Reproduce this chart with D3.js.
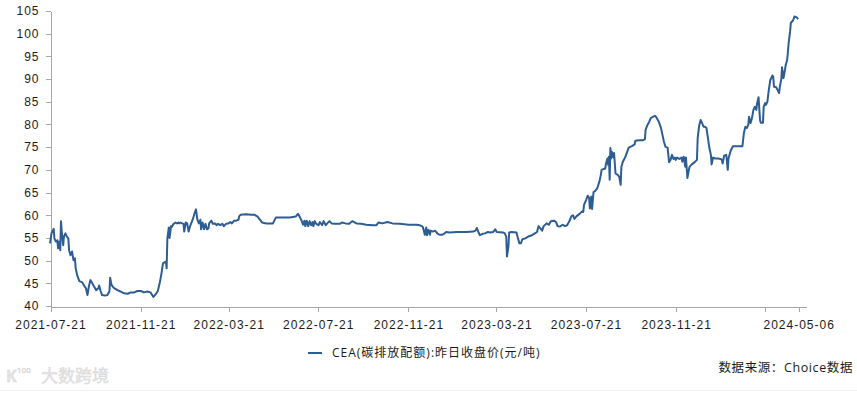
<!DOCTYPE html>
<html>
<head>
<meta charset="utf-8">
<script src="https://cdn.jsdelivr.net/npm/d3@7"></script>
<style>
  html, body { margin: 0; padding: 0; background: #fff; }
  svg { display: block; font-family: 'Open Sans', 'Noto Sans CJK SC', sans-serif; }
  .axis path, .axis line { stroke: #a6a6a6; shape-rendering: crispEdges; }
  .axis text { fill: #1a1a1a; font-size: 12px; letter-spacing: 1px; }
</style>
</head>
<body>
<svg id="chart" width="857" height="393"></svg>
<script>
const dates = [
  '2021-07-21', '2021-07-23', '2021-07-26', '2021-07-27', '2021-07-29', '2021-07-31', '2021-08-01', '2021-08-03',
  '2021-08-04', '2021-08-05', '2021-08-06', '2021-08-08', '2021-08-09', '2021-08-11', '2021-08-13', '2021-08-15',
  '2021-08-16', '2021-08-18', '2021-08-20', '2021-08-22', '2021-08-24', '2021-08-25', '2021-08-27', '2021-08-30',
  '2021-09-03', '2021-09-05', '2021-09-08', '2021-09-10', '2021-09-12', '2021-09-14', '2021-09-16', '2021-09-19',
  '2021-09-22', '2021-09-25', '2021-09-26', '2021-09-28', '2021-09-30', '2021-10-04', '2021-10-07', '2021-10-10',
  '2021-10-11', '2021-10-13', '2021-10-16', '2021-10-21', '2021-10-25', '2021-10-30', '2021-11-04', '2021-11-08',
  '2021-11-13', '2021-11-17', '2021-11-22', '2021-11-26', '2021-12-01', '2021-12-05', '2021-12-09', '2021-12-13',
  '2021-12-15', '2021-12-18', '2021-12-20', '2021-12-22', '2021-12-24', '2021-12-26', '2021-12-27', '2021-12-28',
  '2021-12-30', '2021-12-31', '2022-01-02', '2022-01-03', '2022-01-05', '2022-01-08', '2022-01-10', '2022-01-12',
  '2022-01-13', '2022-01-15', '2022-01-17', '2022-01-19', '2022-01-20', '2022-01-22', '2022-01-24', '2022-01-26',
  '2022-01-28', '2022-01-30', '2022-02-01', '2022-02-03', '2022-02-05', '2022-02-07', '2022-02-09', '2022-02-11',
  '2022-02-12', '2022-02-14', '2022-02-16', '2022-02-18', '2022-02-20', '2022-02-22', '2022-02-23', '2022-02-26',
  '2022-02-28', '2022-03-03', '2022-03-05', '2022-03-07', '2022-03-10', '2022-03-13', '2022-03-15', '2022-03-18',
  '2022-03-21', '2022-03-24', '2022-03-26', '2022-03-29', '2022-04-01', '2022-04-04', '2022-04-05', '2022-04-07',
  '2022-04-14', '2022-04-22', '2022-04-26', '2022-04-30', '2022-05-03', '2022-05-06', '2022-05-12', '2022-05-21',
  '2022-05-24', '2022-05-25', '2022-06-04', '2022-06-13', '2022-06-21', '2022-06-24', '2022-06-26', '2022-06-29',
  '2022-07-01', '2022-07-03', '2022-07-04', '2022-07-06', '2022-07-08', '2022-07-10', '2022-07-12', '2022-07-14',
  '2022-07-15', '2022-07-17', '2022-07-19', '2022-07-22', '2022-07-24', '2022-07-27', '2022-07-29', '2022-08-01',
  '2022-08-03', '2022-08-06', '2022-08-09', '2022-08-14', '2022-08-20', '2022-08-23', '2022-08-28', '2022-09-02',
  '2022-09-06', '2022-09-12', '2022-09-18', '2022-09-25', '2022-10-04', '2022-10-09', '2022-10-12', '2022-10-17',
  '2022-10-24', '2022-10-31', '2022-11-10', '2022-11-22', '2022-12-03', '2022-12-07', '2022-12-11', '2022-12-12',
  '2022-12-14', '2022-12-16', '2022-12-17', '2022-12-19', '2022-12-21', '2022-12-22', '2022-12-25', '2022-12-28',
  '2022-12-31', '2023-01-03', '2023-01-07', '2023-01-10', '2023-01-12', '2023-01-17', '2023-01-26', '2023-02-09',
  '2023-02-18', '2023-02-21', '2023-02-23', '2023-02-25', '2023-02-27', '2023-03-03', '2023-03-06', '2023-03-10',
  '2023-03-13', '2023-03-17', '2023-03-20', '2023-03-22', '2023-03-31', '2023-04-02', '2023-04-04', '2023-04-05',
  '2023-04-07', '2023-04-08', '2023-04-11', '2023-04-18', '2023-04-20', '2023-04-22', '2023-04-24', '2023-04-26',
  '2023-04-30', '2023-05-04', '2023-05-09', '2023-05-13', '2023-05-16', '2023-05-18', '2023-05-21', '2023-05-23',
  '2023-05-25', '2023-05-29', '2023-06-01', '2023-06-04', '2023-06-08', '2023-06-11', '2023-06-13', '2023-06-16',
  '2023-06-20', '2023-06-23', '2023-06-26', '2023-06-29', '2023-07-02', '2023-07-04', '2023-07-06', '2023-07-09',
  '2023-07-13', '2023-07-16', '2023-07-18', '2023-07-19', '2023-07-22', '2023-07-24', '2023-07-26', '2023-07-27',
  '2023-07-29', '2023-07-30', '2023-08-01', '2023-08-03', '2023-08-06', '2023-08-09', '2023-08-11', '2023-08-12',
  '2023-08-15', '2023-08-17', '2023-08-18', '2023-08-20', '2023-08-21', '2023-08-22', '2023-08-23', '2023-08-24',
  '2023-08-25', '2023-08-26', '2023-08-28', '2023-08-29', '2023-08-31', '2023-09-03', '2023-09-05', '2023-09-07',
  '2023-09-08', '2023-09-10', '2023-09-13', '2023-09-16', '2023-09-18', '2023-09-23', '2023-09-26', '2023-09-27',
  '2023-10-02', '2023-10-07', '2023-10-10', '2023-10-11', '2023-10-13', '2023-10-16', '2023-10-18', '2023-10-21',
  '2023-10-24', '2023-10-26', '2023-10-29', '2023-10-31', '2023-11-01', '2023-11-03', '2023-11-05', '2023-11-07',
  '2023-11-10', '2023-11-11', '2023-11-12', '2023-11-14', '2023-11-16', '2023-11-18', '2023-11-20', '2023-11-21',
  '2023-11-23', '2023-11-26', '2023-11-29', '2023-11-30', '2023-12-02', '2023-12-04', '2023-12-05', '2023-12-07',
  '2023-12-09', '2023-12-10', '2023-12-13', '2023-12-17', '2023-12-20', '2023-12-21', '2023-12-23', '2023-12-25',
  '2023-12-27', '2023-12-29', '2023-12-31', '2024-01-02', '2024-01-04', '2024-01-06', '2024-01-08', '2024-01-09',
  '2024-01-11', '2024-01-14', '2024-01-18', '2024-01-21', '2024-01-23', '2024-01-24', '2024-01-26', '2024-01-29',
  '2024-01-31', '2024-02-01', '2024-02-04', '2024-02-07', '2024-02-12', '2024-02-17', '2024-02-20', '2024-02-22',
  '2024-02-24', '2024-02-26', '2024-02-28', '2024-02-29', '2024-03-02', '2024-03-04', '2024-03-06', '2024-03-08',
  '2024-03-10', '2024-03-11', '2024-03-13', '2024-03-15', '2024-03-16', '2024-03-19', '2024-03-20', '2024-03-22',
  '2024-03-23', '2024-03-25', '2024-03-27', '2024-03-29', '2024-04-01', '2024-04-02', '2024-04-03', '2024-04-06',
  '2024-04-08', '2024-04-10', '2024-04-11', '2024-04-13', '2024-04-14', '2024-04-16', '2024-04-18', '2024-04-19',
  '2024-04-21', '2024-04-23', '2024-04-25', '2024-04-26', '2024-04-29', '2024-05-01', '2024-05-04', '2024-05-06',
];

const prices = [
  53.8, 56.0, 57.0, 54.9, 54.2, 54.5, 52.7, 54.2,
  52.3, 58.7, 56.4, 53.4, 55.3, 56.0, 55.3, 54.9,
  52.3, 51.2, 52.0, 50.1, 50.5, 48.3, 46.8, 45.5,
  45.2, 44.6, 43.9, 42.4, 44.3, 45.7, 45.2, 44.3,
  43.5, 43.9, 44.5, 43.3, 42.4, 42.3, 42.4, 43.2,
  46.2, 44.6, 44.0, 43.5, 43.2, 42.8, 42.7, 43.0,
  43.0, 43.3, 43.3, 43.0, 43.2, 43.0, 42.0, 42.8,
  43.3, 45.4, 47.2, 49.4, 49.6, 49.8, 48.3, 54.9,
  57.3, 55.0, 57.6, 57.4, 58.0, 58.4, 58.2, 58.4,
  58.2, 58.4, 58.2, 58.1, 56.4, 58.4, 58.2, 56.4,
  57.6, 58.4, 59.3, 60.4, 61.3, 59.0, 58.2, 59.0,
  56.9, 58.4, 56.9, 58.1, 56.9, 57.1, 58.2, 58.8,
  58.1, 58.2, 57.8, 58.1, 57.8, 58.1, 57.6, 58.1,
  58.2, 58.5, 58.2, 58.8, 58.8, 59.0, 59.8, 60.1,
  60.2, 60.1, 60.1, 59.7, 59.1, 58.4, 58.2, 58.2,
  59.2, 59.5, 59.5, 59.5, 59.7, 60.3, 59.8, 58.8,
  57.9, 58.8, 57.6, 58.8, 57.6, 58.7, 57.8, 58.5,
  57.6, 58.7, 58.1, 57.8, 58.5, 57.8, 58.7, 57.8,
  58.2, 58.7, 58.2, 58.1, 58.1, 58.4, 58.2, 58.1,
  58.7, 58.2, 58.1, 57.9, 57.8, 57.8, 58.4, 58.2,
  58.5, 58.2, 58.1, 57.9, 57.9, 57.8, 57.5, 57.0,
  55.7, 57.3, 55.6, 56.8, 55.7, 56.6, 56.4, 56.6,
  56.0, 55.7, 55.7, 56.0, 56.3, 56.2, 56.3, 56.3,
  56.4, 56.6, 57.2, 56.3, 55.6, 55.9, 56.0, 56.3,
  56.2, 56.3, 56.9, 56.3, 56.2, 56.0, 55.3, 50.9,
  53.1, 56.2, 56.3, 56.2, 54.9, 53.8, 53.8, 54.7,
  54.9, 55.3, 55.6, 56.0, 56.3, 57.6, 57.0, 56.6,
  57.6, 58.2, 57.9, 58.7, 58.8, 58.5, 57.6, 57.5,
  57.9, 57.6, 57.8, 58.7, 59.8, 60.0, 59.2, 59.8,
  60.3, 60.8, 60.7, 62.3, 63.4, 64.3, 63.9, 61.5,
  64.1, 61.4, 65.1, 65.3, 65.9, 67.4, 68.9, 70.0,
  70.2, 70.3, 71.4, 72.5, 71.1, 72.9, 67.8, 74.8,
  72.5, 74.0, 72.7, 73.7, 69.2, 68.9, 68.5, 66.7,
  70.7, 71.8, 72.7, 74.0, 74.9, 75.3, 75.6, 76.4,
  76.5, 76.5, 76.7, 78.8, 79.7, 80.6, 81.4, 81.7,
  81.9, 81.5, 80.6, 79.7, 79.2, 77.7, 76.2, 75.1,
  74.9, 73.3, 71.7, 72.2, 73.3, 72.4, 72.7, 72.2,
  72.7, 72.4, 72.7, 71.8, 72.9, 70.7, 72.7, 68.2,
  70.0, 70.7, 71.2, 71.7, 72.2, 77.0, 79.7, 81.0,
  80.3, 79.5, 79.5, 79.2, 77.0, 74.8, 73.3, 71.2,
  72.7, 72.5, 72.5, 72.4, 72.2, 71.4, 73.1, 73.3,
  70.0, 72.5, 74.2, 75.2, 75.2, 75.2, 75.2, 78.1,
  79.5, 79.2, 79.9, 81.7, 80.3, 81.4, 83.2, 83.9,
  83.2, 84.7, 86.0, 81.0, 80.4, 80.4, 83.9, 84.7,
  84.3, 85.0, 87.6, 89.8, 90.8, 90.5, 88.3, 88.2,
  87.6, 86.9, 88.3, 90.0, 92.6, 90.2, 92.0, 93.1,
  94.2, 97.9, 100.5, 102.4, 102.9, 103.8, 103.6, 103.2,
];

const xTickDates = ['2021-07-21', '2021-11-21', '2022-03-21', '2022-07-21', '2022-11-21',
  '2023-03-21', '2023-07-21', '2023-11-21', '2024-03-21', '2024-05-06'];
const xTickLabels = ['2021-07-21', '2021-11-21', '2022-03-21', '2022-07-21', '2022-11-21',
  '2023-03-21', '2023-07-21', '2023-11-21', '', '2024-05-06'];
const yTicks = [40, 45, 50, 55, 60, 65, 70, 75, 80, 85, 90, 95, 100, 105];

const seriesName = 'CEA(碳排放配额):昨日收盘价(元/吨)';
const sourceText = '数据来源：Choice数据';
const lineColor = '#2d5d92';

const parse = d3.timeParse('%Y-%m-%d');
const data = dates.map((d, i) => ({ date: parse(d), value: prices[i] }));

const svg = d3.select('#chart');

const x = d3.scaleTime()
  .domain([parse('2021-07-21'), parse('2024-05-16')])
  .range([50, 805.5]);
const y = d3.scaleLinear()
  .domain([40, 105])
  .range([306, 11]);

// axes
svg.append('g')
  .attr('class', 'axis')
  .attr('transform', 'translate(50.5,0)')
  .call(d3.axisLeft(y).tickValues(yTicks).tickSize(5).tickSizeOuter(0).tickPadding(7))
  .call(g => g.selectAll('text').attr('dx', '1px'));

const labelOf = new Map(xTickDates.map((d, i) => [d, xTickLabels[i]]));
svg.append('g')
  .attr('class', 'axis')
  .attr('transform', 'translate(0.5,306.5)')
  .call(d3.axisBottom(x)
    .tickValues(xTickDates.map(parse))
    .tickFormat(d => labelOf.get(d3.timeFormat('%Y-%m-%d')(d)))
    .tickSize(5)
    .tickSizeOuter(0)
    .tickPadding(9));

// series
const line = d3.line()
  .x(d => x(d.date))
  .y(d => y(d.value));

svg.append('path')
  .datum(data)
  .attr('fill', 'none')
  .attr('stroke', lineColor)
  .attr('stroke-width', 2)
  .attr('stroke-linejoin', 'round')
  .attr('d', line);

// legend
const legend = svg.append('g').attr('transform', 'translate(308,353)');
legend.append('line')
  .attr('x1', 0).attr('x2', 14)
  .attr('stroke', lineColor)
  .attr('stroke-width', 2);
legend.append('text')
  .attr('x', 24)
  .attr('dy', '0.35em')
  .attr('font-size', 12)
  .attr('letter-spacing', '1px')
  .attr('fill', '#1a1a1a')
  .text(seriesName);

// source note
svg.append('text')
  .attr('x', 853)
  .attr('y', 372)
  .attr('text-anchor', 'end')
  .attr('font-size', 12.5)
  .attr('letter-spacing', '0.6px')
  .attr('fill', '#1a1a1a')
  .text(sourceText);

// faint watermark
const mark = svg.append('g').attr('fill', '#e4e4e4').attr('stroke', '#d6d6d6').attr('stroke-width', 0.4);
mark.append('text')
  .attr('x', 6).attr('y', 382)
  .attr('font-size', 16).attr('font-weight', 'bold')
  .text('K');
mark.append('text')
  .attr('x', 17).attr('y', 373)
  .attr('font-size', 8)
  .text('100');
mark.append('text')
  .attr('x', 41).attr('y', 382)
  .attr('font-size', 17)
  .attr('font-family', 'Noto Sans CJK SC')
  .text('大数跨境');

svg.append('line')
  .attr('x1', 0).attr('x2', 857)
  .attr('y1', 390.5).attr('y2', 390.5)
  .attr('stroke', '#f0f0f0');
</script>
</body>
</html>
